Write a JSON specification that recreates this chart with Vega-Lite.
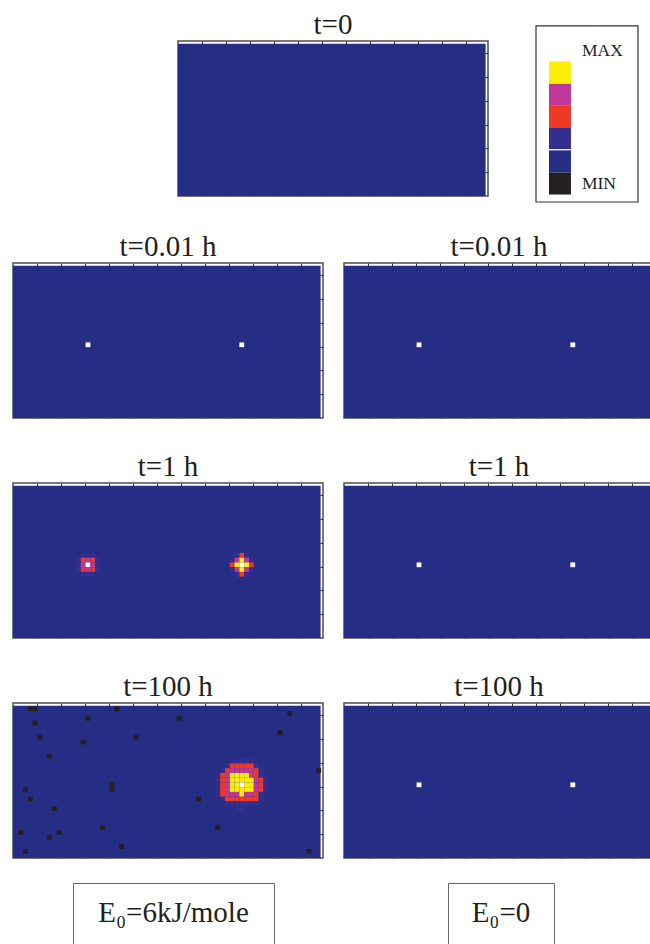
{
"$schema":"https://vega.github.io/schema/vega-lite/v6.json",
"padding":{"left":11,"top":9,"right":0,"bottom":0},
"background":"white",
"config":{
 "view":{"stroke":"#4d4d4d","strokeWidth":1.5,"fill":"white"},
 "axis":{"labels":false,"domain":false,"grid":false,"title":null,"ticks":true,"tickSize":-3,"tickColor":"#333333","tickWidth":1},
 "title":{"font":"Liberation Serif","fontSize":29,"fontWeight":"normal","color":"#231f20","baseline":"alphabetic","offset":1,"frame":"group","anchor":"middle"}
},
"datasets":{"cells":[
{"p":"a1","x":15,"y":15,"v":"w"},{"p":"a1","x":47,"y":15,"v":"w"},
{"p":"b1","x":15,"y":15,"v":"w"},{"p":"b1","x":47,"y":15,"v":"w"},
{"p":"b2","x":15,"y":15,"v":"w"},{"p":"b2","x":47,"y":15,"v":"w"},
{"p":"b3","x":15,"y":15,"v":"w"},{"p":"b3","x":47,"y":15,"v":"w"},
{"p":"a2","x":14,"y":17,"v":"p"},{"p":"a2","x":15,"y":17,"v":"p"},{"p":"a2","x":16,"y":17,"v":"p"},
{"p":"a2","x":13,"y":16,"v":"p"},{"p":"a2","x":14,"y":16,"v":"r"},{"p":"a2","x":15,"y":16,"v":"m"},{"p":"a2","x":16,"y":16,"v":"r"},{"p":"a2","x":17,"y":16,"v":"p"},
{"p":"a2","x":13,"y":15,"v":"p"},{"p":"a2","x":14,"y":15,"v":"m"},{"p":"a2","x":15,"y":15,"v":"w"},{"p":"a2","x":16,"y":15,"v":"m"},{"p":"a2","x":17,"y":15,"v":"p"},
{"p":"a2","x":13,"y":14,"v":"p"},{"p":"a2","x":14,"y":14,"v":"r"},{"p":"a2","x":15,"y":14,"v":"m"},{"p":"a2","x":16,"y":14,"v":"r"},{"p":"a2","x":17,"y":14,"v":"p"},
{"p":"a2","x":14,"y":13,"v":"p"},{"p":"a2","x":15,"y":13,"v":"p"},{"p":"a2","x":16,"y":13,"v":"p"},
{"p":"a2","x":46,"y":17,"v":"p"},{"p":"a2","x":47,"y":17,"v":"r"},{"p":"a2","x":48,"y":17,"v":"p"},
{"p":"a2","x":45,"y":16,"v":"p"},{"p":"a2","x":46,"y":16,"v":"m"},{"p":"a2","x":47,"y":16,"v":"y"},{"p":"a2","x":48,"y":16,"v":"m"},{"p":"a2","x":49,"y":16,"v":"p"},
{"p":"a2","x":45,"y":15,"v":"r"},{"p":"a2","x":46,"y":15,"v":"y"},{"p":"a2","x":47,"y":15,"v":"w"},{"p":"a2","x":48,"y":15,"v":"y"},{"p":"a2","x":49,"y":15,"v":"r"},
{"p":"a2","x":45,"y":14,"v":"p"},{"p":"a2","x":46,"y":14,"v":"m"},{"p":"a2","x":47,"y":14,"v":"y"},{"p":"a2","x":48,"y":14,"v":"m"},{"p":"a2","x":49,"y":14,"v":"p"},
{"p":"a2","x":46,"y":13,"v":"p"},{"p":"a2","x":47,"y":13,"v":"r"},{"p":"a2","x":48,"y":13,"v":"p"},
{"p":"a3","x":45,"y":20,"v":"p"},{"p":"a3","x":46,"y":20,"v":"p"},{"p":"a3","x":47,"y":20,"v":"p"},{"p":"a3","x":48,"y":20,"v":"p"},{"p":"a3","x":49,"y":20,"v":"p"},
{"p":"a3","x":44,"y":19,"v":"p"},{"p":"a3","x":45,"y":19,"v":"r"},{"p":"a3","x":46,"y":19,"v":"r"},{"p":"a3","x":47,"y":19,"v":"r"},{"p":"a3","x":48,"y":19,"v":"r"},{"p":"a3","x":49,"y":19,"v":"r"},{"p":"a3","x":50,"y":19,"v":"p"},
{"p":"a3","x":43,"y":18,"v":"p"},{"p":"a3","x":44,"y":18,"v":"r"},{"p":"a3","x":45,"y":18,"v":"m"},{"p":"a3","x":46,"y":18,"v":"m"},{"p":"a3","x":47,"y":18,"v":"m"},{"p":"a3","x":48,"y":18,"v":"m"},{"p":"a3","x":49,"y":18,"v":"m"},{"p":"a3","x":50,"y":18,"v":"r"},{"p":"a3","x":51,"y":18,"v":"p"},
{"p":"a3","x":42,"y":17,"v":"p"},{"p":"a3","x":43,"y":17,"v":"r"},{"p":"a3","x":44,"y":17,"v":"m"},{"p":"a3","x":45,"y":17,"v":"y"},{"p":"a3","x":46,"y":17,"v":"y"},{"p":"a3","x":47,"y":17,"v":"y"},{"p":"a3","x":48,"y":17,"v":"y"},{"p":"a3","x":49,"y":17,"v":"m"},{"p":"a3","x":50,"y":17,"v":"r"},{"p":"a3","x":51,"y":17,"v":"p"},
{"p":"a3","x":42,"y":16,"v":"p"},{"p":"a3","x":43,"y":16,"v":"r"},{"p":"a3","x":44,"y":16,"v":"m"},{"p":"a3","x":45,"y":16,"v":"y"},{"p":"a3","x":46,"y":16,"v":"y"},{"p":"a3","x":47,"y":16,"v":"y"},{"p":"a3","x":48,"y":16,"v":"y"},{"p":"a3","x":49,"y":16,"v":"y"},{"p":"a3","x":50,"y":16,"v":"m"},{"p":"a3","x":51,"y":16,"v":"r"},{"p":"a3","x":52,"y":16,"v":"p"},
{"p":"a3","x":42,"y":15,"v":"p"},{"p":"a3","x":43,"y":15,"v":"r"},{"p":"a3","x":44,"y":15,"v":"m"},{"p":"a3","x":45,"y":15,"v":"y"},{"p":"a3","x":46,"y":15,"v":"y"},{"p":"a3","x":47,"y":15,"v":"w"},{"p":"a3","x":48,"y":15,"v":"y"},{"p":"a3","x":49,"y":15,"v":"y"},{"p":"a3","x":50,"y":15,"v":"m"},{"p":"a3","x":51,"y":15,"v":"r"},{"p":"a3","x":52,"y":15,"v":"p"},
{"p":"a3","x":42,"y":14,"v":"p"},{"p":"a3","x":43,"y":14,"v":"r"},{"p":"a3","x":44,"y":14,"v":"m"},{"p":"a3","x":45,"y":14,"v":"y"},{"p":"a3","x":46,"y":14,"v":"y"},{"p":"a3","x":47,"y":14,"v":"y"},{"p":"a3","x":48,"y":14,"v":"y"},{"p":"a3","x":49,"y":14,"v":"y"},{"p":"a3","x":50,"y":14,"v":"m"},{"p":"a3","x":51,"y":14,"v":"r"},{"p":"a3","x":52,"y":14,"v":"p"},
{"p":"a3","x":42,"y":13,"v":"p"},{"p":"a3","x":43,"y":13,"v":"r"},{"p":"a3","x":44,"y":13,"v":"m"},{"p":"a3","x":45,"y":13,"v":"m"},{"p":"a3","x":46,"y":13,"v":"m"},{"p":"a3","x":47,"y":13,"v":"y"},{"p":"a3","x":48,"y":13,"v":"m"},{"p":"a3","x":49,"y":13,"v":"m"},{"p":"a3","x":50,"y":13,"v":"r"},{"p":"a3","x":51,"y":13,"v":"p"},
{"p":"a3","x":43,"y":12,"v":"p"},{"p":"a3","x":44,"y":12,"v":"r"},{"p":"a3","x":45,"y":12,"v":"r"},{"p":"a3","x":46,"y":12,"v":"r"},{"p":"a3","x":47,"y":12,"v":"r"},{"p":"a3","x":48,"y":12,"v":"r"},{"p":"a3","x":49,"y":12,"v":"r"},{"p":"a3","x":50,"y":12,"v":"r"},{"p":"a3","x":51,"y":12,"v":"p"},
{"p":"a3","x":44,"y":11,"v":"p"},{"p":"a3","x":45,"y":11,"v":"p"},{"p":"a3","x":46,"y":11,"v":"p"},{"p":"a3","x":47,"y":11,"v":"p"},{"p":"a3","x":48,"y":11,"v":"p"},{"p":"a3","x":49,"y":11,"v":"p"},{"p":"a3","x":50,"y":11,"v":"p"},
{"p":"a3","x":46,"y":10,"v":"p"},{"p":"a3","x":47,"y":10,"v":"p"},
{"p":"a3","x":3,"y":31,"v":"k"},{"p":"a3","x":4,"y":31,"v":"k"},{"p":"a3","x":21,"y":31,"v":"k"},{"p":"a3","x":4,"y":28,"v":"k"},{"p":"a3","x":15,"y":29,"v":"k"},{"p":"a3","x":34,"y":29,"v":"k"},{"p":"a3","x":57,"y":30,"v":"k"},{"p":"a3","x":5,"y":25,"v":"k"},{"p":"a3","x":14,"y":24,"v":"k"},{"p":"a3","x":25,"y":25,"v":"k"},{"p":"a3","x":55,"y":26,"v":"k"},{"p":"a3","x":7,"y":21,"v":"k"},{"p":"a3","x":63,"y":18,"v":"k"},{"p":"a3","x":2,"y":14,"v":"k"},{"p":"a3","x":20,"y":15,"v":"k"},{"p":"a3","x":20,"y":14,"v":"k"},{"p":"a3","x":3,"y":12,"v":"k"},{"p":"a3","x":38,"y":12,"v":"k"},{"p":"a3","x":8,"y":10,"v":"k"},{"p":"a3","x":18,"y":6,"v":"k"},{"p":"a3","x":42,"y":6,"v":"k"},{"p":"a3","x":1,"y":5,"v":"k"},{"p":"a3","x":9,"y":5,"v":"k"},{"p":"a3","x":7,"y":4,"v":"k"},{"p":"a3","x":22,"y":2,"v":"k"},{"p":"a3","x":2,"y":1,"v":"k"},{"p":"a3","x":61,"y":1,"v":"k"}
]},
"spacing":28,
"vconcat":[
 {"hconcat":[
   {"width":163,"height":10,"view":{"stroke":null,"fill":null},"data":{"values":[]},"mark":"point","encoding":{}},
   {"width":310,"height":155,"title":"t=0","resolve":{"axis":{"x":"independent","y":"independent"}},
    "layer":[
     {"data":{"values":[{"v":"b"}]},"mark":"rect","encoding":{
       "x":{"datum":0,"type":"quantitative","scale":{"domain":[0,64.5],"nice":false,"zero":false},"axis":{"orient":"bottom","values":[5,10,15,20,25,30,35,40,45,50,55,60]}},
       "x2":{"datum":64},
       "y":{"datum":0,"type":"quantitative","scale":{"domain":[0,32.6],"nice":false,"zero":false},"axis":{"orient":"left","values":[5,10,15,20,25,30]}},
       "y2":{"datum":32},
       "color":{"field":"v","type":"nominal","scale":{"domain":["k","b","p","r","m","y","w"],"range":["#231f20","#252d84","#332e90","#ee3a24","#c1369a","#fdee0a","#ffffff"]},"legend":null}}},
     {"data":{"name":"cells"},"transform":[{"filter":"datum.p==='t0'"}],"mark":"rect","encoding":{
       "x":{"field":"x","type":"quantitative","bin":{"binned":true,"step":1},"axis":{"orient":"top","values":[5,10,15,20,25,30,35,40,45,50,55,60]}},
       "y":{"field":"y","type":"quantitative","bin":{"binned":true,"step":1},"axis":{"orient":"right","values":[5,10,15,20,25,30]}},
       "color":{"field":"v","type":"nominal","scale":{"domain":["k","b","p","r","m","y","w"],"range":["#231f20","#252d84","#332e90","#ee3a24","#c1369a","#fdee0a","#ffffff"]},"legend":null}}}
    ]},
   {"width":45,"height":10,"view":{"stroke":null,"fill":null},"data":{"values":[]},"mark":"point","encoding":{}},
   {"width":102,"height":161,"view":{"stroke":null,"fill":null},
    "layer":[
     {"data":{"values":[{"box":"frame"}]},"mark":{"type":"rect","fill":"white","stroke":"#333333","strokeWidth":1.2},"encoding":{
       "x":{"datum":-0.59,"type":"quantitative","scale":{"domain":[-0.59,4.05],"nice":false,"zero":false},"axis":null},
       "x2":{"datum":4.05},
       "y":{"datum":-0.36,"type":"quantitative","scale":{"domain":[-0.36,6.9],"nice":false,"zero":false},"axis":null},
       "y2":{"datum":7.58}}},
     {"data":{"values":[{"n":0,"v":"k"},{"n":1,"v":"b"},{"n":2,"v":"p"},{"n":3,"v":"r"},{"n":4,"v":"m"},{"n":5,"v":"y"}]},"mark":"rect","encoding":{
       "x":{"datum":0,"type":"quantitative","axis":null},
       "x2":{"datum":1},
       "y":{"field":"n","type":"quantitative","bin":{"binned":true,"step":1},"axis":null},
       "color":{"field":"v","type":"nominal","scale":{"domain":["k","b","p","r","m","y","w"],"range":["#231f20","#252d84","#332e90","#ee3a24","#c1369a","#fdee0a","#ffffff"]},"legend":null}}},
     {"data":{"values":[{"n":2}]},"mark":{"type":"rule","color":"white","strokeWidth":1.2},"encoding":{
       "x":{"datum":0,"type":"quantitative","axis":null},"x2":{"datum":1},
       "y":{"field":"n","type":"quantitative","axis":null}}},
     {"data":{"values":[{"label":"MAX","n":6.23},{"label":"MIN","n":0.23}]},"mark":{"type":"text","align":"left","baseline":"alphabetic","font":"Liberation Serif","fontSize":17.5,"color":"#231f20"},"encoding":{
       "x":{"datum":1.5,"type":"quantitative","axis":null},
       "y":{"field":"n","type":"quantitative","axis":null},
       "text":{"field":"label"}}}
    ]}
 ],"spacing":0},
 {"vconcat":[
   {"vconcat":[
     {"hconcat":[
       {"width":310,"height":155,"title":"t=0.01 h","resolve":{"axis":{"x":"independent","y":"independent"}},
        "layer":[
         {"data":{"values":[{"v":"b"}]},"mark":"rect","encoding":{
           "x":{"datum":0,"type":"quantitative","scale":{"domain":[0,64.5],"nice":false,"zero":false},"axis":{"orient":"bottom","values":[5,10,15,20,25,30,35,40,45,50,55,60]}},
           "x2":{"datum":64},
           "y":{"datum":0,"type":"quantitative","scale":{"domain":[0,32.6],"nice":false,"zero":false},"axis":{"orient":"left","values":[5,10,15,20,25,30]}},
           "y2":{"datum":32},
           "color":{"field":"v","type":"nominal","scale":{"domain":["k","b","p","r","m","y","w"],"range":["#231f20","#252d84","#332e90","#ee3a24","#c1369a","#fdee0a","#ffffff"]},"legend":null}}},
         {"data":{"name":"cells"},"transform":[{"filter":"datum.p==='a1'"}],"mark":"rect","encoding":{
           "x":{"field":"x","type":"quantitative","bin":{"binned":true,"step":1},"axis":{"orient":"top","values":[5,10,15,20,25,30,35,40,45,50,55,60]}},
           "y":{"field":"y","type":"quantitative","bin":{"binned":true,"step":1},"axis":{"orient":"right","values":[5,10,15,20,25,30]}},
           "color":{"field":"v","type":"nominal","scale":{"domain":["k","b","p","r","m","y","w"],"range":["#231f20","#252d84","#332e90","#ee3a24","#c1369a","#fdee0a","#ffffff"]},"legend":null}}}
        ]},
       {"width":310,"height":155,"title":"t=0.01 h","resolve":{"axis":{"x":"independent","y":"independent"}},
        "layer":[
         {"data":{"values":[{"v":"b"}]},"mark":"rect","encoding":{
           "x":{"datum":0,"type":"quantitative","scale":{"domain":[0,64.5],"nice":false,"zero":false},"axis":{"orient":"bottom","values":[5,10,15,20,25,30,35,40,45,50,55,60]}},
           "x2":{"datum":64},
           "y":{"datum":0,"type":"quantitative","scale":{"domain":[0,32.6],"nice":false,"zero":false},"axis":{"orient":"left","values":[5,10,15,20,25,30]}},
           "y2":{"datum":32},
           "color":{"field":"v","type":"nominal","scale":{"domain":["k","b","p","r","m","y","w"],"range":["#231f20","#252d84","#332e90","#ee3a24","#c1369a","#fdee0a","#ffffff"]},"legend":null}}},
         {"data":{"name":"cells"},"transform":[{"filter":"datum.p==='b1'"}],"mark":"rect","encoding":{
           "x":{"field":"x","type":"quantitative","bin":{"binned":true,"step":1},"axis":{"orient":"top","values":[5,10,15,20,25,30,35,40,45,50,55,60]}},
           "y":{"field":"y","type":"quantitative","bin":{"binned":true,"step":1},"axis":{"orient":"right","values":[5,10,15,20,25,30]}},
           "color":{"field":"v","type":"nominal","scale":{"domain":["k","b","p","r","m","y","w"],"range":["#231f20","#252d84","#332e90","#ee3a24","#c1369a","#fdee0a","#ffffff"]},"legend":null}}}
        ]}
     ],"spacing":17},
     {"hconcat":[
       {"width":310,"height":155,"title":"t=1 h","resolve":{"axis":{"x":"independent","y":"independent"}},
        "layer":[
         {"data":{"values":[{"v":"b"}]},"mark":"rect","encoding":{
           "x":{"datum":0,"type":"quantitative","scale":{"domain":[0,64.5],"nice":false,"zero":false},"axis":{"orient":"bottom","values":[5,10,15,20,25,30,35,40,45,50,55,60]}},
           "x2":{"datum":64},
           "y":{"datum":0,"type":"quantitative","scale":{"domain":[0,32.6],"nice":false,"zero":false},"axis":{"orient":"left","values":[5,10,15,20,25,30]}},
           "y2":{"datum":32},
           "color":{"field":"v","type":"nominal","scale":{"domain":["k","b","p","r","m","y","w"],"range":["#231f20","#252d84","#332e90","#ee3a24","#c1369a","#fdee0a","#ffffff"]},"legend":null}}},
         {"data":{"name":"cells"},"transform":[{"filter":"datum.p==='a2'"}],"mark":"rect","encoding":{
           "x":{"field":"x","type":"quantitative","bin":{"binned":true,"step":1},"axis":{"orient":"top","values":[5,10,15,20,25,30,35,40,45,50,55,60]}},
           "y":{"field":"y","type":"quantitative","bin":{"binned":true,"step":1},"axis":{"orient":"right","values":[5,10,15,20,25,30]}},
           "color":{"field":"v","type":"nominal","scale":{"domain":["k","b","p","r","m","y","w"],"range":["#231f20","#252d84","#332e90","#ee3a24","#c1369a","#fdee0a","#ffffff"]},"legend":null}}}
        ]},
       {"width":310,"height":155,"title":"t=1 h","resolve":{"axis":{"x":"independent","y":"independent"}},
        "layer":[
         {"data":{"values":[{"v":"b"}]},"mark":"rect","encoding":{
           "x":{"datum":0,"type":"quantitative","scale":{"domain":[0,64.5],"nice":false,"zero":false},"axis":{"orient":"bottom","values":[5,10,15,20,25,30,35,40,45,50,55,60]}},
           "x2":{"datum":64},
           "y":{"datum":0,"type":"quantitative","scale":{"domain":[0,32.6],"nice":false,"zero":false},"axis":{"orient":"left","values":[5,10,15,20,25,30]}},
           "y2":{"datum":32},
           "color":{"field":"v","type":"nominal","scale":{"domain":["k","b","p","r","m","y","w"],"range":["#231f20","#252d84","#332e90","#ee3a24","#c1369a","#fdee0a","#ffffff"]},"legend":null}}},
         {"data":{"name":"cells"},"transform":[{"filter":"datum.p==='b2'"}],"mark":"rect","encoding":{
           "x":{"field":"x","type":"quantitative","bin":{"binned":true,"step":1},"axis":{"orient":"top","values":[5,10,15,20,25,30,35,40,45,50,55,60]}},
           "y":{"field":"y","type":"quantitative","bin":{"binned":true,"step":1},"axis":{"orient":"right","values":[5,10,15,20,25,30]}},
           "color":{"field":"v","type":"nominal","scale":{"domain":["k","b","p","r","m","y","w"],"range":["#231f20","#252d84","#332e90","#ee3a24","#c1369a","#fdee0a","#ffffff"]},"legend":null}}}
        ]}
     ],"spacing":17},
     {"hconcat":[
       {"width":310,"height":155,"title":"t=100 h","resolve":{"axis":{"x":"independent","y":"independent"}},
        "layer":[
         {"data":{"values":[{"v":"b"}]},"mark":"rect","encoding":{
           "x":{"datum":0,"type":"quantitative","scale":{"domain":[0,64.5],"nice":false,"zero":false},"axis":{"orient":"bottom","values":[5,10,15,20,25,30,35,40,45,50,55,60]}},
           "x2":{"datum":64},
           "y":{"datum":0,"type":"quantitative","scale":{"domain":[0,32.6],"nice":false,"zero":false},"axis":{"orient":"left","values":[5,10,15,20,25,30]}},
           "y2":{"datum":32},
           "color":{"field":"v","type":"nominal","scale":{"domain":["k","b","p","r","m","y","w"],"range":["#231f20","#252d84","#332e90","#ee3a24","#c1369a","#fdee0a","#ffffff"]},"legend":null}}},
         {"data":{"name":"cells"},"transform":[{"filter":"datum.p==='a3'"}],"mark":"rect","encoding":{
           "x":{"field":"x","type":"quantitative","bin":{"binned":true,"step":1},"axis":{"orient":"top","values":[5,10,15,20,25,30,35,40,45,50,55,60]}},
           "y":{"field":"y","type":"quantitative","bin":{"binned":true,"step":1},"axis":{"orient":"right","values":[5,10,15,20,25,30]}},
           "color":{"field":"v","type":"nominal","scale":{"domain":["k","b","p","r","m","y","w"],"range":["#231f20","#252d84","#332e90","#ee3a24","#c1369a","#fdee0a","#ffffff"]},"legend":null}}}
        ]},
       {"width":310,"height":155,"title":"t=100 h","resolve":{"axis":{"x":"independent","y":"independent"}},
        "layer":[
         {"data":{"values":[{"v":"b"}]},"mark":"rect","encoding":{
           "x":{"datum":0,"type":"quantitative","scale":{"domain":[0,64.5],"nice":false,"zero":false},"axis":{"orient":"bottom","values":[5,10,15,20,25,30,35,40,45,50,55,60]}},
           "x2":{"datum":64},
           "y":{"datum":0,"type":"quantitative","scale":{"domain":[0,32.6],"nice":false,"zero":false},"axis":{"orient":"left","values":[5,10,15,20,25,30]}},
           "y2":{"datum":32},
           "color":{"field":"v","type":"nominal","scale":{"domain":["k","b","p","r","m","y","w"],"range":["#231f20","#252d84","#332e90","#ee3a24","#c1369a","#fdee0a","#ffffff"]},"legend":null}}},
         {"data":{"name":"cells"},"transform":[{"filter":"datum.p==='b3'"}],"mark":"rect","encoding":{
           "x":{"field":"x","type":"quantitative","bin":{"binned":true,"step":1},"axis":{"orient":"top","values":[5,10,15,20,25,30,35,40,45,50,55,60]}},
           "y":{"field":"y","type":"quantitative","bin":{"binned":true,"step":1},"axis":{"orient":"right","values":[5,10,15,20,25,30]}},
           "color":{"field":"v","type":"nominal","scale":{"domain":["k","b","p","r","m","y","w"],"range":["#231f20","#252d84","#332e90","#ee3a24","#c1369a","#fdee0a","#ffffff"]},"legend":null}}}
        ]}
     ],"spacing":17}
   ],"spacing":31},
   {"hconcat":[
     {"width":59,"height":10,"view":{"stroke":null,"fill":null},"data":{"values":[]},"mark":"point","encoding":{}},
     {"width":201,"height":80,"view":{"stroke":"#666666","strokeWidth":1,"fill":"white"},"data":{"values":[{"t":"E₀=6kJ/mole"}]},
      "mark":{"type":"text","font":"Liberation Serif","fontSize":29,"baseline":"alphabetic","align":"center","color":"#231f20"},
      "encoding":{"text":{"field":"t"},"x":{"datum":0.5,"type":"quantitative","scale":{"domain":[0,1]},"axis":null},"y":{"datum":0.51,"type":"quantitative","scale":{"domain":[0,1]},"axis":null}}},
     {"width":172,"height":10,"view":{"stroke":null,"fill":null},"data":{"values":[]},"mark":"point","encoding":{}},
     {"width":106,"height":80,"view":{"stroke":"#666666","strokeWidth":1,"fill":"white"},"data":{"values":[{"t":"E₀=0"}]},
      "mark":{"type":"text","font":"Liberation Serif","fontSize":29,"baseline":"alphabetic","align":"center","color":"#231f20"},
      "encoding":{"text":{"field":"t"},"x":{"datum":0.5,"type":"quantitative","scale":{"domain":[0,1]},"axis":null},"y":{"datum":0.51,"type":"quantitative","scale":{"domain":[0,1]},"axis":null}}}
   ],"spacing":0}
 ],"spacing":22}
]
}
